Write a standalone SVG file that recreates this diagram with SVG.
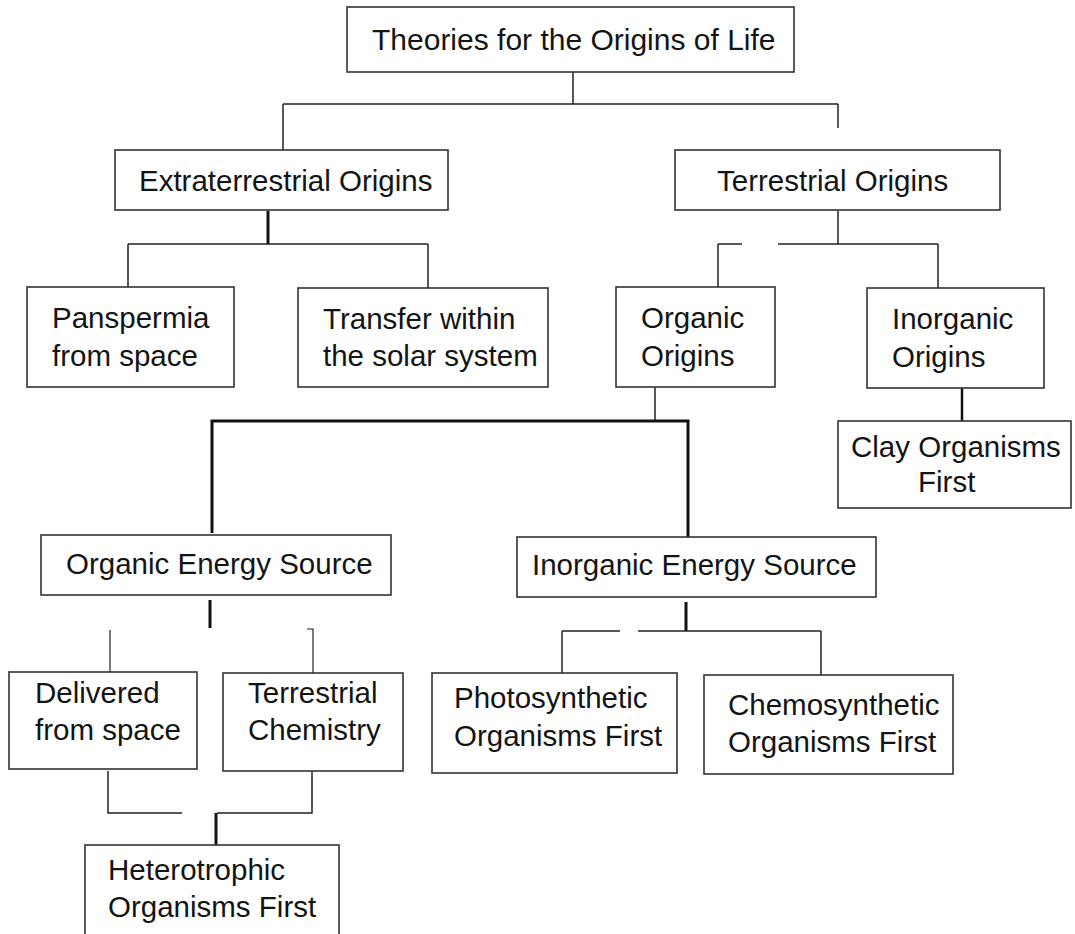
<svg xmlns="http://www.w3.org/2000/svg" width="1075" height="934" viewBox="0 0 1075 934">
<style>
.box{fill:#fff;stroke:#333;stroke-width:1.6}
.t{font-family:"Liberation Sans",Arial,sans-serif;font-size:29.5px;fill:#141414}
.ln{fill:none;stroke:#222;stroke-width:1.5}
.thk{fill:none;stroke:#111;stroke-width:3}
</style>
<rect width="1075" height="934" fill="#fff"/>
<g id="connectors">
<path class="ln" d="M573 72V104M283 104H838M283 104V150M838 104V128"/>
<path class="thk" d="M268 211V244"/>
<path class="ln" d="M128 244H428M128 244V287M428 244V288"/>
<path class="ln" d="M838 211V244M718 244H742M778 244H938M718 244V287M938 244V288"/>
<path class="ln" d="M655 387V420"/>
<path class="thk" d="M212 533V421H688V537"/>
<path class="thk" d="M962 388V421" style="stroke-width:2.5"/>
<path class="thk" d="M210 600V628"/>
<path class="ln" d="M110 630V672M307 629H313V673" style="stroke-width:1.2"/>
<path class="ln" d="M108 771V813H182M312 771V813H217"/>
<path class="thk" d="M216 813V845"/>
<path class="thk" d="M686 602V631"/>
<path class="ln" d="M562 631H620M638 631H821M562 631V673M821 631V675"/>
</g>
<g id="root"><rect class="box" x="347" y="7" width="447" height="65"/><text class="t" x="372" y="50" style="font-size:30px">Theories for the Origins of Life</text></g>
<g id="extraterrestrial"><rect class="box" x="115" y="150" width="333" height="60"/><text class="t" x="139" y="191">Extraterrestrial Origins</text></g>
<g id="terrestrial"><rect class="box" x="675" y="150" width="325" height="60"/><text class="t" x="717" y="191">Terrestrial Origins</text></g>
<g id="panspermia"><rect class="box" x="27" y="287" width="207" height="100"/><text class="t" x="52" y="328">Panspermia</text><text class="t" x="52" y="366">from space</text></g>
<g id="transfer"><rect class="box" x="298" y="288" width="250" height="99"/><text class="t" x="323" y="329">Transfer within</text><text class="t" x="323" y="366">the solar system</text></g>
<g id="organic-origins"><rect class="box" x="616" y="287" width="159" height="100"/><text class="t" x="641" y="328">Organic</text><text class="t" x="641" y="366">Origins</text></g>
<g id="inorganic-origins"><rect class="box" x="867" y="288" width="177" height="100"/><text class="t" x="892" y="329">Inorganic</text><text class="t" x="892" y="367">Origins</text></g>
<g id="clay"><rect class="box" x="838" y="421" width="233" height="87"/><text class="t" x="851" y="457">Clay Organisms</text><text class="t" x="918" y="492">First</text></g>
<g id="organic-energy"><rect class="box" x="41" y="535" width="350" height="60"/><text class="t" x="66" y="574">Organic Energy Source</text></g>
<g id="inorganic-energy"><rect class="box" x="517" y="537" width="359" height="60"/><text class="t" x="532" y="575">Inorganic Energy Source</text></g>
<g id="delivered"><rect class="box" x="9" y="672" width="188" height="97"/><text class="t" x="35" y="703">Delivered</text><text class="t" x="35" y="740">from space</text></g>
<g id="terrestrial-chemistry"><rect class="box" x="223" y="673" width="180" height="98"/><text class="t" x="248" y="703">Terrestrial</text><text class="t" x="248" y="740">Chemistry</text></g>
<g id="photosynthetic"><rect class="box" x="432" y="673" width="245" height="100"/><text class="t" x="454" y="708">Photosynthetic</text><text class="t" x="454" y="746">Organisms First</text></g>
<g id="chemosynthetic"><rect class="box" x="704" y="675" width="249" height="99"/><text class="t" x="728" y="715">Chemosynthetic</text><text class="t" x="728" y="752">Organisms First</text></g>
<g id="heterotrophic"><rect class="box" x="85" y="845" width="254" height="100"/><text class="t" x="108" y="880">Heterotrophic</text><text class="t" x="108" y="917">Organisms First</text></g>
</svg>
